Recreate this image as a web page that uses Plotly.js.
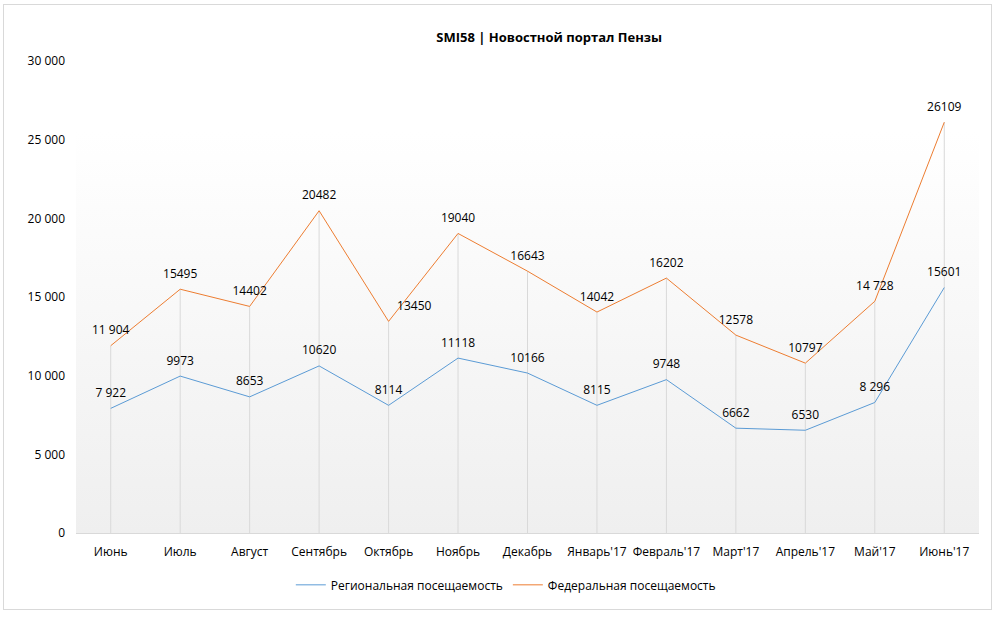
<!DOCTYPE html>
<html>
<head>
<meta charset="utf-8">
<script src="https://cdn.plot.ly/plotly-3.0.1.min.js"></script>
<style>
  html, body { margin: 0; padding: 0; background: #ffffff; width: 997px; height: 619px; overflow: hidden; }
  #wrap { position: absolute; left: 3px; top: 4px; width: 987px; height: 604px; border: 1px solid #d9d9d9; background: #fff; }
  #chart { width: 987px; height: 604px; }
</style>
</head>
<body>
<div id="wrap"><div id="chart"></div></div>
<script>
const categories = ["Июнь", "Июль", "Август", "Сентябрь", "Октябрь", "Ноябрь", "Декабрь",
  "Январь'17", "Февраль'17", "Март'17", "Апрель'17", "Май'17", "Июнь'17"];
const regional = [7922, 9973, 8653, 10620, 8114, 11118, 10166, 8115, 9748, 6662, 6530, 8296, 15601];
const federal = [11904, 15495, 14402, 20482, 13450, 19040, 16643, 14042, 16202, 12578, 10797, 14728, 26109];
const regionalLabels = ["7 922", "9973", "8653", "10620", "8114", "11118", "10166", "8115", "9748", "6662", "6530", "8 296", "15601"];
const federalLabels = ["11 904", "15495", "14402", "20482", "13450", "19040", "16643", "14042", "16202", "12578", "10797", "14 728", "26109"];
const regionalName = "Региональная посещаемость";
const federalName = "Федеральная посещаемость";
const chartTitle = "SMI58 | Новостной портал Пензы";

// drop lines from the highest point of each category down to zero
const dropX = [], dropY = [];
categories.forEach((c, i) => {
  dropX.push(c, c, null);
  dropY.push(0, Math.max(regional[i], federal[i]), null);
});

const fedPos = federal.map((v, i) => i === 4 ? "top right" : "top center");

const font = "Open Sans, Noto Sans, sans-serif";
const ghost = { size: 12, color: "rgba(0,0,0,0)" };

const traces = [
  { x: dropX, y: dropY, type: "scatter", mode: "lines",
    line: { color: "#d9d9d9", width: 1 }, hoverinfo: "skip", showlegend: false },
  { x: categories, y: regional, type: "scatter", mode: "lines+markers+text", name: regionalName,
    text: regionalLabels, textposition: "top center", marker: ghost,
    textfont: { family: font, size: 12, color: "#000" },
    line: { color: "#5b9bd5", width: 1 }, cliponaxis: false },
  { x: categories, y: federal, type: "scatter", mode: "lines+markers+text", name: federalName,
    text: federalLabels, textposition: fedPos, marker: ghost,
    textfont: { family: font, size: 12, color: "#000" },
    line: { color: "#ed7d31", width: 1 }, cliponaxis: false }
];

const grad = '<svg xmlns="http://www.w3.org/2000/svg" width="100" height="100" preserveAspectRatio="none">' +
  '<defs><linearGradient id="g" x1="0" y1="0" x2="0" y2="1">' +
  '<stop offset="0" stop-color="#ffffff"/><stop offset="0.15" stop-color="#ffffff"/>' +
  '<stop offset="1" stop-color="#efefef"/></linearGradient></defs>' +
  '<rect width="100" height="100" fill="url(#g)"/></svg>';

const layout = {
  width: 987, height: 604,
  margin: { l: 72, r: 12, t: 56, b: 76, autoexpand: false },
  paper_bgcolor: "#ffffff",
  plot_bgcolor: "rgba(0,0,0,0)",
  separators: ", ",
  font: { family: font, size: 11, color: "#000" },
  title: { text: "<b>" + chartTitle + "</b>", font: { family: font, size: 13, color: "#000" },
           x: 0.524, xref: "paper", xanchor: "center", y: 0.947, yref: "container", yanchor: "middle" },
  xaxis: { type: "category", range: [-0.5, 12.5], showgrid: false, zeroline: false,
           showline: true, linecolor: "#d9d9d9", linewidth: 1, ticks: "", ticklabelstandoff: 8,
           tickfont: { family: font, size: 12, color: "#000" }, fixedrange: true },
  yaxis: { range: [0, 30000], dtick: 5000, tickformat: ",d", showgrid: false, zeroline: false,
           showline: false, ticks: "", ticklen: 0, ticklabelstandoff: 10,
           tickfont: { family: font, size: 12, color: "#000" }, fixedrange: true },
  legend: { orientation: "h", x: 0.476, xanchor: "center", yref: "container", y: 0.04, yanchor: "middle",
            font: { family: font, size: 12, color: "#000" }, itemwidth: 30, tracegroupgap: 0 },
  images: [{ source: "data:image/svg+xml;charset=utf-8," + encodeURIComponent(grad),
             xref: "paper", yref: "paper", x: 0, y: 1, sizex: 1, sizey: 1,
             sizing: "stretch", layer: "below", xanchor: "left", yanchor: "top" }],
  showlegend: true
};

Plotly.newPlot("chart", traces, layout, { displayModeBar: false, staticPlot: true });
</script>
</body>
</html>
